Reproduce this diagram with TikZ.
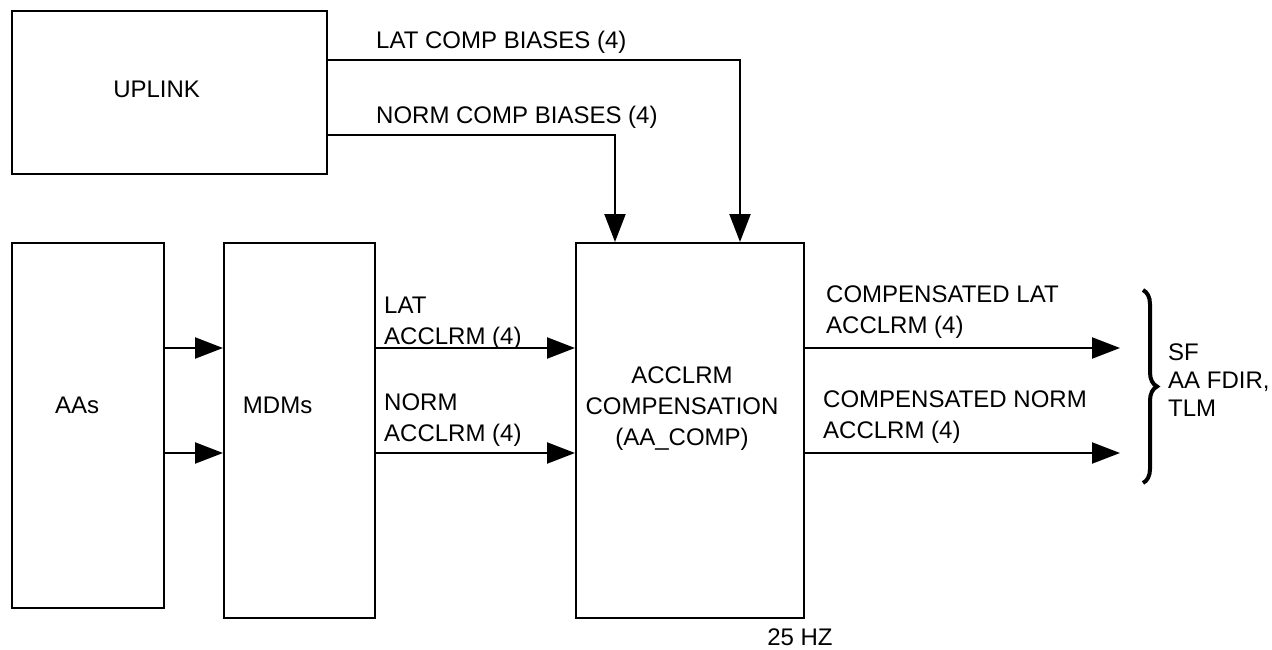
\documentclass[tikz,border=0pt]{standalone}
\usepackage{fontspec}
\setmainfont{Liberation Sans}
\usetikzlibrary{arrows.meta,decorations.pathreplacing}
\begin{document}
\begin{tikzpicture}[x=1pt,y=-1pt,
  box/.style={draw,line width=2.2pt,inner sep=0pt,anchor=north west},
  flow/.style={line width=2.2pt,-{Triangle[length=28pt,width=21pt]}},
  lbl/.style={inner sep=0pt,font=\fontsize{24}{31}\selectfont,align=left},
  every label/.style={inner sep=0pt,font=\fontsize{24}{31}\selectfont,align=center}]
\useasboundingbox (0,0) rectangle (1272,650);
% boxes
\node[box,minimum width=315pt,minimum height=163pt,label={[xshift=-13pt,yshift=3pt]center:UPLINK}] (uplink) at (11,10) {};
\node[box,minimum width=152pt,minimum height=365pt,label={[xshift=-11pt,yshift=20pt]center:AAs}] (aas) at (11,242) {};
\node[box,minimum width=151pt,minimum height=375pt,label={[xshift=-22pt,yshift=25pt]center:MDMs}] (mdms) at (223,242) {};
\node[box,minimum width=228pt,minimum height=375pt] (comp) at (575,242) {};
\node[lbl,align=center,anchor=base] (comptext) at (682,445) {ACCLRM\\COMPENSATION\\(AA\_COMP)};
% coordinates
\coordinate (r1) at (0,348);
\coordinate (r2) at (0,453);
\coordinate (lc) at (740,60);
\coordinate (nc) at (615,135);
\coordinate (o1) at (1120,348);
\coordinate (o2) at (1120,453);
% connectors
\draw[flow] (aas.east |- r1) -- (mdms.west |- r1);
\draw[flow] (aas.east |- r2) -- (mdms.west |- r2);
\draw[flow] (mdms.east |- r1) -- (comp.west |- r1);
\draw[flow] (mdms.east |- r2) -- (comp.west |- r2);
\draw[flow] (uplink.east |- lc) -- (lc) -- (comp.north -| lc);
\draw[flow] (uplink.east |- nc) -- (nc) -- (comp.north -| nc);
\draw[flow] (comp.east |- r1) -- (o1);
\draw[flow] (comp.east |- r2) -- (o2);
% labels
\node[lbl,anchor=base west] (llat) at (376,49) {LAT COMP BIASES (4)};
\node[lbl,anchor=base west] (lnorm) at (376,124) {NORM COMP BIASES (4)};
\node[lbl,anchor=base west] (alat) at (384,344) {LAT\\ACCLRM (4)};
\node[lbl,anchor=base west] (anorm) at (384,441) {NORM\\ACCLRM (4)};
\node[lbl,anchor=base west] (clat) at (826,333) {COMPENSATED LAT\\ACCLRM (4)};
\node[lbl,anchor=base west] (cnorm) at (823,438) {COMPENSATED NORM\\ACCLRM (4)};
\node[lbl,anchor=base] (hz) at (800,645) {25 HZ};
% brace
\coordinate (b1) at (1143,290);
\coordinate (b2) at (1143,483);
\draw[decorate,decoration={brace,amplitude=14pt},line width=4pt] (b1) -- (b2);
\node[lbl,anchor=base west,font=\fontsize{24}{28}\selectfont] (dest) at (1168,416) {SF\\AA FDIR,\\TLM};
\end{tikzpicture}
\end{document}
